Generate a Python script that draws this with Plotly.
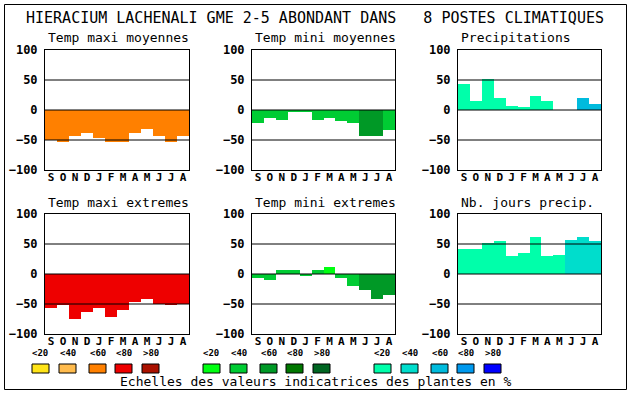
import plotly.graph_objects as go

W, H = 630, 394

months = ["S", "O", "N", "D", "J", "F", "M", "A", "M", "J", "J", "A"]
y_ticks = [-100, -50, 0, 50, 100]
grid_values = [50, 0, -50]

title_main = "HIERACIUM LACHENALI GME 2-5 ABONDANT DANS\u00a0\u00a0\u00a08 POSTES CLIMATIQUES"
footer = "Echelles des valeurs indicatrices des plantes en %"

scale_labels = ["<20", "<40", "<60", "<80", ">80"]
warm_scale = ["#FFE418", "#FFBB4D", "#FF8000", "#EE0000", "#AA1100"]
green_scale = ["#00FF11", "#00CC33", "#009926", "#007700", "#006622"]
blue_scale = ["#00FFAA", "#00DDCC", "#00BBDD", "#0099EE", "#0000FF"]

titles = ["Temp maxi moyennes", "Temp mini moyennes", "Precipitations",
          "Temp maxi extremes", "Temp mini extremes", "Nb. jours precip."]

tmax_moy = [-50, -54, -44, -38, -47, -53, -54, -38, -31, -43, -53, -44]
tmax_moy_cls = [2] * 12
tmin_moy = [-22, -14, -16, -4, -4, -16, -13, -18, -21, -43, -43, -34]
tmin_moy_cls = [1, 1, 1, 1, 1, 1, 1, 1, 1, 2, 2, 1]
precip = [44, 15, 52, 20, 7, 5, 24, 15, 0, 0, 20, 10]
precip_cls = [0, 0, 0, 0, 0, 0, 0, 0, 0, 0, 2, 2]
tmax_ext = [-57, -52, -75, -64, -57, -72, -60, -46, -41, -50, -52, -50]
tmax_ext_cls = [3] * 12
tmin_ext = [-7, -10, 7, 7, -2, 7, 12, -7, -20, -27, -42, -35]
tmin_ext_cls = [1, 1, 1, 1, 1, 1, 0, 1, 1, 2, 2, 2]
nb_jours = [42, 42, 52, 55, 30, 35, 62, 30, 32, 57, 62, 55]
nb_jours_cls = [0, 0, 0, 0, 0, 0, 0, 0, 0, 1, 1, 1]

series = [(tmax_moy, tmax_moy_cls, warm_scale), (tmin_moy, tmin_moy_cls, green_scale),
          (precip, precip_cls, blue_scale), (tmax_ext, tmax_ext_cls, warm_scale),
          (tmin_ext, tmin_ext_cls, green_scale), (nb_jours, nb_jours_cls, blue_scale)]

MONO = "DejaVu Sans Mono"

def px(x):
    return x / W

def py(y):
    return 1 - y / H

col_px = [(45, 189), (252, 395), (458, 601)]
row_px = [(50, 170), (214, 334)]

fig = go.Figure()
shapes = []
annotations = []

xs = list(range(len(months)))
for i, (vals, cls, scale) in enumerate(series):
    n = i + 1
    r, c = divmod(i, 3)
    xa = "x" if n == 1 else f"x{n}"
    ya = "y" if n == 1 else f"y{n}"
    fig.add_trace(go.Bar(x=xs, y=vals, base=0, width=1,
                         marker=dict(color=[scale[k] for k in cls], line=dict(width=0)),
                         xaxis=xa, yaxis=ya, showlegend=False, hoverinfo="skip"))
    x0, x1 = col_px[c]
    y0, y1 = row_px[r]
    axkey = "" if n == 1 else str(n)
    fig.update_layout(**{
        f"xaxis{axkey}": dict(domain=[px(x0), px(x1)], anchor=ya, range=[-0.5, 11.5],
                              tickvals=xs, ticktext=months, showgrid=False, zeroline=False,
                              showline=True, mirror=True, linecolor="black", linewidth=1,
                              ticks="", fixedrange=True, automargin=False, ticklabelstandoff=-3,
                              tickfont=dict(family=MONO, size=11, color="black", weight="bold")),
        f"yaxis{axkey}": dict(domain=[py(y1), py(y0)], anchor=xa, range=[-100, 100],
                              tickvals=y_ticks, showgrid=False, zeroline=False,
                              showline=True, mirror=True, linecolor="black", linewidth=1,
                              ticks="", ticklabelstandoff=4, fixedrange=True, automargin=False,
                              tickfont=dict(family=MONO, size=12, color="black", weight="bold")),
    })
    for g in grid_values:
        shapes.append(dict(type="line", xref=f"{xa} domain", yref=ya, x0=0, x1=1, y0=g, y1=g,
                           line=dict(color="black", width=1), layer="above"))
    annotations.append(dict(text=titles[i], xref="paper", yref="paper", x=px(x0 + 1),
                            y=py(y0 - 12), xanchor="left", yanchor="middle", showarrow=False,
                            font=dict(family=MONO, size=13, color="black")))

# main title
annotations.append(dict(text=title_main, xref="paper", yref="paper", x=px(315), y=py(18),
                        xanchor="center", yanchor="middle", showarrow=False,
                        font=dict(family=MONO, size=15, color="black")))

# colour scale legend
group_starts = [32, 203, 374]
box_offsets = [0, 27, 57, 83, 110]
for gs, scale in zip(group_starts, [warm_scale, green_scale, blue_scale]):
    for off, col, lab in zip(box_offsets, scale, scale_labels):
        bx = gs + off
        shapes.append(dict(type="rect", xref="paper", yref="paper", x0=px(bx), x1=px(bx + 17),
                           y0=py(373), y1=py(364), fillcolor=col,
                           line=dict(color="black", width=1)))
        annotations.append(dict(text=lab, xref="paper", yref="paper", x=px(bx + 8.5), y=py(353),
                                xanchor="center", yanchor="middle", showarrow=False,
                                font=dict(family=MONO, size=9, color="black", weight="bold")))

annotations.append(dict(text=footer, xref="paper", yref="paper", x=px(316), y=py(381),
                        xanchor="center", yanchor="middle", showarrow=False,
                        font=dict(family=MONO, size=13, color="black")))

# outer frame
shapes.append(dict(type="rect", xref="paper", yref="paper", x0=px(4.5), x1=px(626.5),
                   y0=py(389.5), y1=py(4.5), line=dict(color="black", width=1)))

fig.update_layout(width=W, height=H, margin=dict(l=0, r=0, t=0, b=0, pad=0, autoexpand=False),
                  paper_bgcolor="white", plot_bgcolor="white", bargap=0, showlegend=False,
                  shapes=shapes, annotations=annotations)

fig.write_html("out.html", config={"displayModeBar": False, "responsive": False},
               post_script="document.body.style.margin='0';document.body.style.overflow='hidden';")
